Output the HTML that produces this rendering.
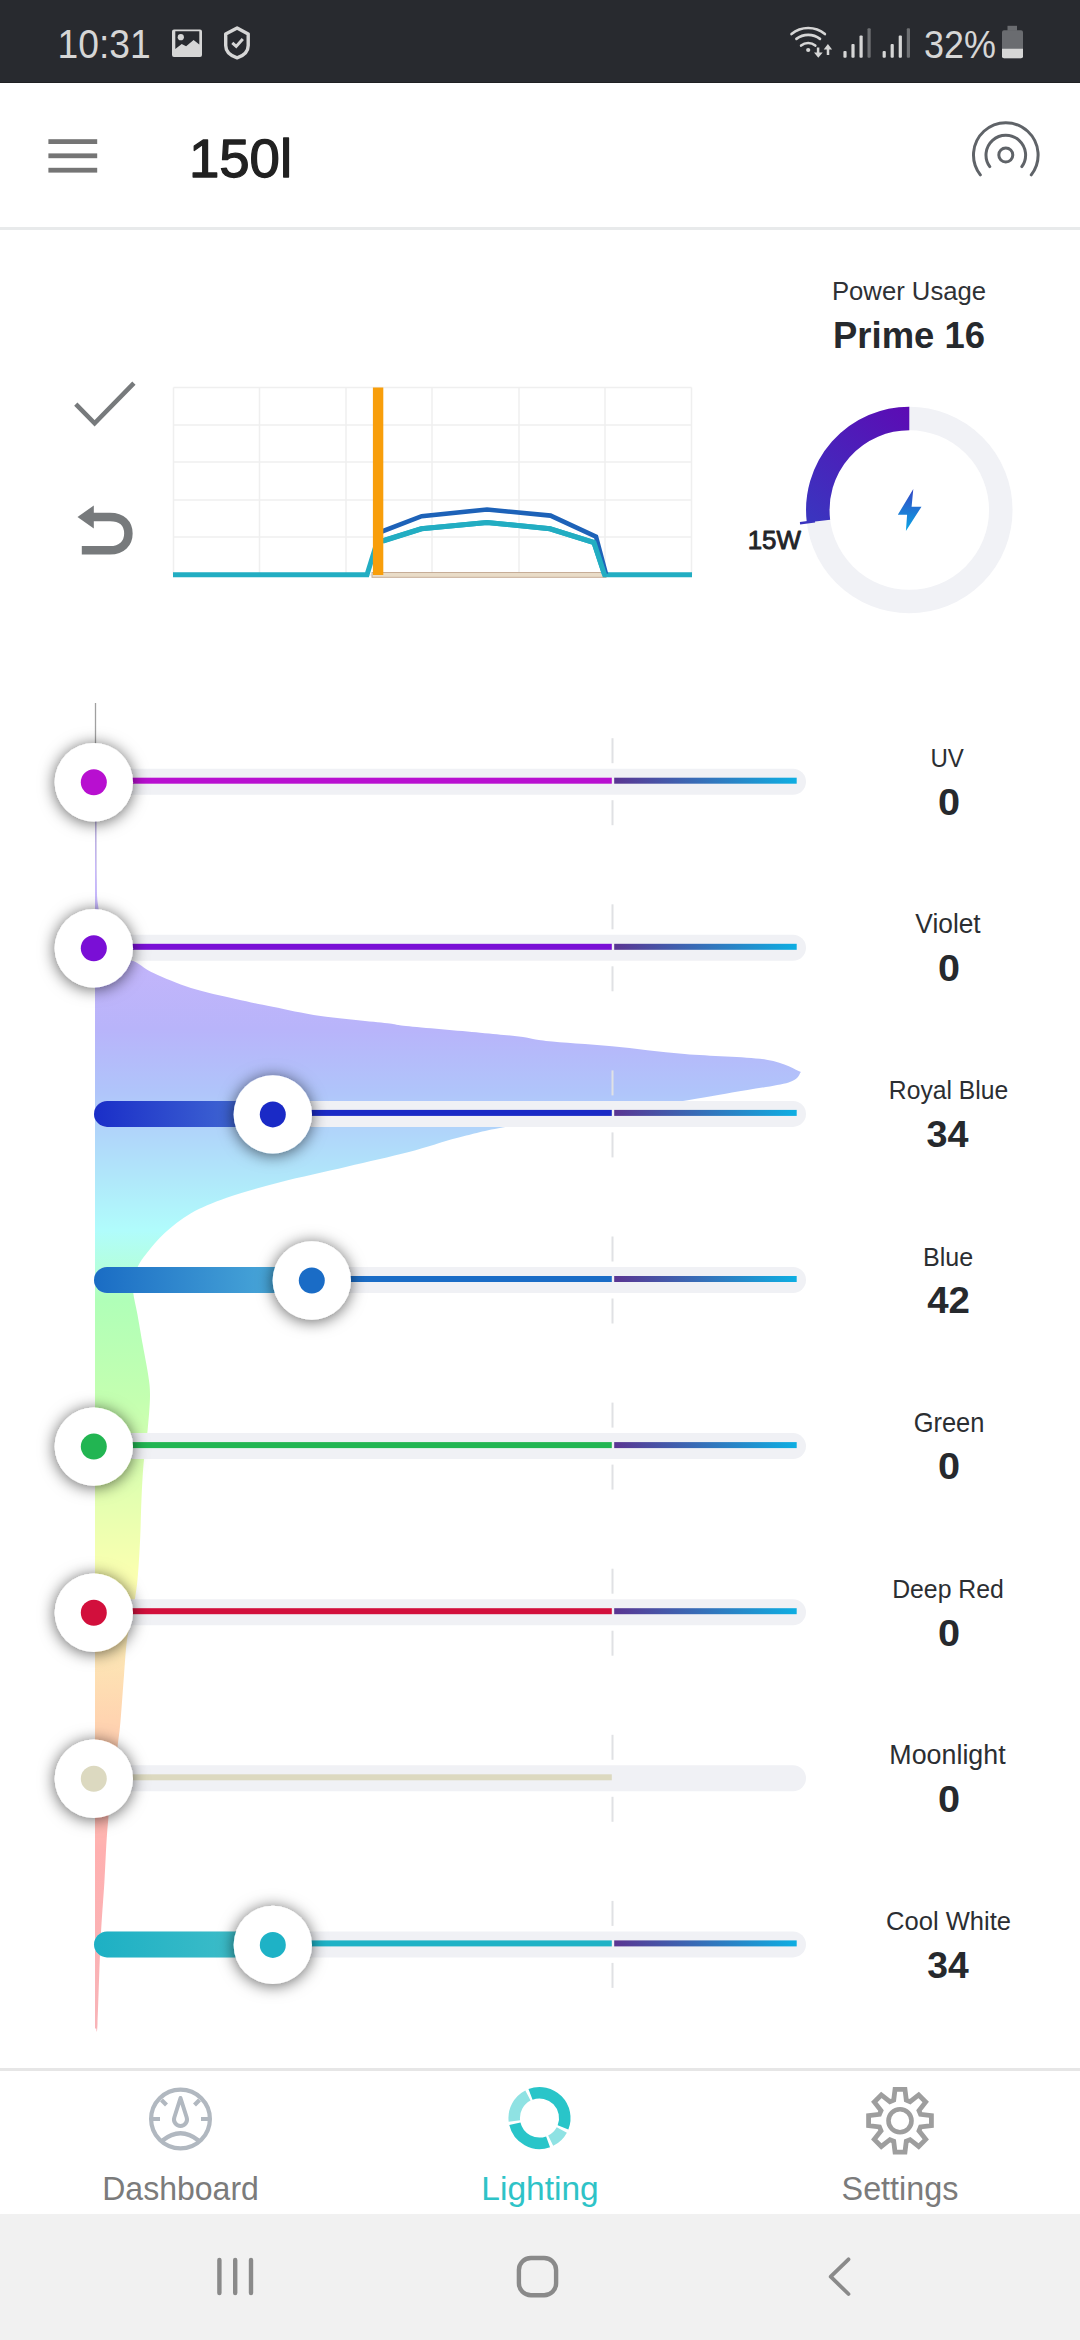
<!DOCTYPE html>
<html><head><meta charset="utf-8">
<style>html,body{margin:0;padding:0;}body{width:1080px;height:2340px;position:relative;overflow:hidden;background:#fff;}svg{position:absolute;left:0;top:0;}</style></head><body>
<svg width="1080" height="2340" viewBox="0 0 1080 2340" font-family='"Liberation Sans", sans-serif'>
<defs>
<linearGradient id="spec" gradientUnits="userSpaceOnUse" x1="0" y1="830" x2="0" y2="2028">
<stop offset="0.0000" stop-color="#c8b8fb"/>
<stop offset="0.1085" stop-color="#c3b5fb"/>
<stop offset="0.1669" stop-color="#b8b4fa"/>
<stop offset="0.2170" stop-color="#b0c4fa"/>
<stop offset="0.2504" stop-color="#b0d4fa"/>
<stop offset="0.2922" stop-color="#b0e8fa"/>
<stop offset="0.3339" stop-color="#b0fcfc"/>
<stop offset="0.3631" stop-color="#b4ffe0"/>
<stop offset="0.3923" stop-color="#b0ffb8"/>
<stop offset="0.4758" stop-color="#c4ffb0"/>
<stop offset="0.5593" stop-color="#e4ffb0"/>
<stop offset="0.6260" stop-color="#fcffb0"/>
<stop offset="0.6928" stop-color="#fde4b4"/>
<stop offset="0.7429" stop-color="#ffd4b0"/>
<stop offset="0.8514" stop-color="#ffb0b0"/>
<stop offset="1.0000" stop-color="#f8b4b8"/>
</linearGradient>
<filter id="ksh" x="-60%" y="-60%" width="220%" height="220%"><feDropShadow dx="0" dy="1.5" stdDeviation="8" flood-color="#000" flood-opacity="0.62"/></filter>
<linearGradient id="tail" x1="0" y1="0" x2="1" y2="0"><stop offset="0" stop-color="#5a3592"/><stop offset="1" stop-color="#0eaee2"/></linearGradient>
<linearGradient id="fill2" gradientUnits="userSpaceOnUse" x1="94" y1="0" x2="234.0" y2="0"><stop offset="0" stop-color="#1a2ec8"/><stop offset="1" stop-color="#3e64d2"/></linearGradient>
<linearGradient id="fill3" gradientUnits="userSpaceOnUse" x1="94" y1="0" x2="273.0" y2="0"><stop offset="0" stop-color="#1a6cc4"/><stop offset="1" stop-color="#48a6d8"/></linearGradient>
<linearGradient id="fill7" gradientUnits="userSpaceOnUse" x1="94" y1="0" x2="234.0" y2="0"><stop offset="0" stop-color="#1db0c4"/><stop offset="1" stop-color="#3cbcc8"/></linearGradient>
<linearGradient id="gaugeG" gradientUnits="userSpaceOnUse" x1="909" y1="407" x2="815" y2="520"><stop offset="0" stop-color="#5c0bb4"/><stop offset="1" stop-color="#3b34bf"/></linearGradient>
<linearGradient id="boltG" x1="0" y1="0" x2="0" y2="1"><stop offset="0" stop-color="#3446c4"/><stop offset="1" stop-color="#0aa6e4"/></linearGradient>
</defs>
<rect x="0" y="0" width="1080" height="83" fill="#282a2f"/><rect x="0" y="82" width="1080" height="1" fill="#1f2023"/>
<text transform="translate(104.05,57.80) scale(0.9306,1)" font-size="40.0" fill="#d6d6d6" text-anchor="middle">10:31</text>
<path d="M174,29.6 h26 a2,2 0 0 1 2,2 v23.5 a2,2 0 0 1 -2,2 h-26 a2,2 0 0 1 -2,-2 v-23.5 a2,2 0 0 1 2,-2z M175.3,31.3 v17.6 l6.4,-4.9 l4.4,2.3 l7.5,-6.2 l5.7,4.4 v-13.2z" fill="#d6d6d6" fill-rule="evenodd"/>
<circle cx="180.8" cy="37.2" r="3.1" fill="#d6d6d6"/>
<path d="M237.1,28 L248.2,34 V45.5 C248.2,51.5 243.5,55.8 237.1,57.8 C230.7,55.8 225.7,51.5 225.7,45.5 V34 Z" fill="none" stroke="#d6d6d6" stroke-width="3.4" stroke-linejoin="round"/>
<path d="M232.3,42.9 L236.2,46.4 L242.8,38.9" fill="none" stroke="#d6d6d6" stroke-width="3"/>
<g fill="none" stroke="#d6d6d6" stroke-width="2.6" stroke-linecap="round">
<path d="M791.5,34.1 A26.0,26.0 0 0 1 824.9,34.1"/>
<path d="M796.4,38.9 A19.2,19.2 0 0 1 820.0,38.9"/>
<path d="M801.1,45.6 A11.0,11.0 0 0 1 815.3,45.6"/>
</g>
<circle cx="808.2" cy="50" r="2.1" fill="#d6d6d6"/>
<path d="M818.1,47.5 V53 M828,55 V49" fill="none" stroke="#d6d6d6" stroke-width="2.5"/>
<path d="M814,52.6 H822.7 L818.3,57.8Z M823.7,49.5 H832.1 L827.9,43.9Z" fill="#d6d6d6"/>
<rect x="843.4" y="51.1" width="3.2" height="6.7" rx="1" fill="#d6d6d6"/>
<rect x="851.4" y="43.9" width="3.2" height="13.9" rx="1" fill="#d6d6d6"/>
<rect x="859.5" y="35.5" width="3.2" height="22.3" rx="1" fill="#d6d6d6"/>
<rect x="867.5" y="28.2" width="3.2" height="29.6" rx="1" fill="#6d6f72"/>
<rect x="882.6" y="51.1" width="3.2" height="6.7" rx="1" fill="#d6d6d6"/>
<rect x="890.6" y="43.9" width="3.2" height="13.9" rx="1" fill="#d6d6d6"/>
<rect x="898.7" y="35.5" width="3.2" height="22.3" rx="1" fill="#d6d6d6"/>
<rect x="906.8" y="28.2" width="3.2" height="29.6" rx="1" fill="#6d6f72"/>
<text transform="translate(960.00,57.80) scale(0.9124,1)" font-size="39.4" fill="#d6d6d6" text-anchor="middle">32%</text>
<rect x="1007.5" y="25.8" width="9.5" height="5" fill="#6a6c70"/>
<rect x="1002" y="30.3" width="21" height="28" rx="2" fill="#6a6c70"/>
<path d="M1002,48.7 h21 v7.6 a2,2 0 0 1 -2,2 h-17 a2,2 0 0 1 -2,-2z" fill="#d6d6d6"/>
<g fill="#757575"><rect x="48.4" y="139.2" width="48.8" height="4.8"/><rect x="48.4" y="153.4" width="48.8" height="4.8"/><rect x="48.4" y="167.8" width="48.8" height="4.8"/></g>
<text transform="translate(240.50,177.40) scale(1.0053,1)" font-size="54.3" stroke-width="1.30" stroke-linejoin="round" fill="#212121" stroke="#212121" text-anchor="middle">150l</text>
<g fill="none" stroke="#5f6368" stroke-width="3" stroke-linecap="round">
<circle cx="1005.8" cy="155" r="7"/>
<path d="M989.78,166.64 A19.8,19.8 0 1 1 1021.82,166.64"/>
<path d="M980.35,174.89 A32.3,32.3 0 1 1 1031.25,174.89"/>
</g>
<rect x="0" y="227" width="1080" height="3" fill="#e8eaeb"/>
<path d="M75.8,404.2 L94.6,423.3 L133.9,383.2" fill="none" stroke="#777a7c" stroke-width="4.6"/>
<path d="M93.8,505.5 L77.5,517 L93.8,528.5 Z" fill="#777a7c"/>
<path d="M92,517 H110 C122,517 128.4,524 128.4,533.5 C128.4,543 122,550.3 110,550.3 H81.8" fill="none" stroke="#777a7c" stroke-width="8.5"/>
<g stroke="#efefef" stroke-width="1.5">
<line x1="173.5" y1="387.5" x2="173.5" y2="575"/>
<line x1="259.5" y1="387.5" x2="259.5" y2="575"/>
<line x1="346.0" y1="387.5" x2="346.0" y2="575"/>
<line x1="432.0" y1="387.5" x2="432.0" y2="575"/>
<line x1="519.0" y1="387.5" x2="519.0" y2="575"/>
<line x1="605.0" y1="387.5" x2="605.0" y2="575"/>
<line x1="691.5" y1="387.5" x2="691.5" y2="575"/>
<line x1="173.5" y1="387.5" x2="691.5" y2="387.5"/>
<line x1="173.5" y1="425.0" x2="691.5" y2="425.0"/>
<line x1="173.5" y1="462.0" x2="691.5" y2="462.0"/>
<line x1="173.5" y1="500.0" x2="691.5" y2="500.0"/>
<line x1="173.5" y1="537.0" x2="691.5" y2="537.0"/>
<line x1="173.5" y1="575.0" x2="691.5" y2="575.0"/>
</g>
<rect x="372" y="572.5" width="234" height="4.8" fill="#e9dcc8" stroke="#c6ad98" stroke-width="1"/>
<polyline points="173,574.8 367,574.8 377,542.6 421,528.8 487,522.5 550,528.8 594,542.6 604.6,574.8 692,574.8" fill="none" stroke="#22adc2" stroke-width="5" stroke-linejoin="miter"/>
<polyline points="378,533 421.7,516.2 487,509.5 550.5,515.6 596,536.6 606,574" fill="none" stroke="#1d62b8" stroke-width="4.6"/>
<polyline points="383,541 421.7,528.8 487,522.5 550,528.8 594,542.6 604.6,574.8" fill="none" stroke="#22adc2" stroke-width="5"/>
<rect x="372.9" y="387.5" width="10.4" height="187.5" fill="#f89e0b"/>
<text transform="translate(909.01,300.00) scale(0.9699,1)" font-size="26.5" fill="#2e3135" text-anchor="middle">Power Usage</text>
<text transform="translate(909.00,347.70) scale(1.0068,1)" font-size="36.2" font-weight="bold" fill="#26292d" text-anchor="middle">Prime 16</text>
<circle cx="909.3" cy="510" r="91.5" fill="none" stroke="#f1f2f6" stroke-width="23.5"/>
<path d="M909.30,418.50 A91.5,91.5 0 0 0 818.48,521.15" fill="none" stroke="url(#gaugeG)" stroke-width="23.5"/>
<line x1="800" y1="523.2" x2="815" y2="521.3" stroke="#3b34bf" stroke-width="2.4"/>
<path d="M913.3,488.9 L897.8,514.8 H907.1 L905.9,531.1 L921.5,506.7 H911.6 Z" fill="url(#boltG)"/>
<text transform="translate(774.29,549.40) scale(0.9882,1)" font-size="26.2" stroke-width="0.90" stroke-linejoin="round" fill="#222428" stroke="#222428" text-anchor="middle">15W</text>
<line x1="95.5" y1="703" x2="95.5" y2="745" stroke="#a0a0a0" stroke-width="1.3"/>
<line x1="95.8" y1="820" x2="95.8" y2="900" stroke="#b0a4d8" stroke-width="1.4"/>
<path d="M95.0,830.0 C95.2,838.3 96.0,867.5 96.5,880.0 C97.0,892.5 96.8,896.7 98.0,905.0 C99.2,913.3 100.3,921.7 104.0,930.0 C107.7,938.3 114.7,949.7 120.0,955.0 C125.3,960.3 129.9,959.0 135.6,962.0 C141.3,965.0 144.8,969.0 154.0,973.3 C163.2,977.6 177.4,983.7 191.0,988.0 C204.6,992.3 222.0,995.9 235.6,999.0 C249.2,1002.1 258.4,1003.9 272.6,1006.7 C286.8,1009.5 301.6,1013.2 320.7,1016.0 C339.8,1018.8 373.2,1021.6 387.4,1023.3 C401.6,1025.0 390.6,1024.4 406.0,1026.0 C421.4,1027.6 460.8,1030.9 480.0,1032.7 C499.2,1034.5 510.0,1035.4 521.0,1036.8 C532.0,1038.2 530.8,1039.3 546.0,1040.9 C561.2,1042.5 588.9,1044.0 612.0,1046.2 C635.1,1048.4 659.0,1051.8 684.7,1054.0 C710.5,1056.2 747.1,1056.7 766.5,1059.7 C785.9,1062.7 795.2,1070.0 801.0,1072.0 C798.9,1073.7 800.1,1079.0 788.6,1082.4 C777.1,1085.8 749.9,1089.3 732.0,1092.5 C714.1,1095.7 703.5,1097.7 681.5,1101.3 C659.5,1104.9 629.1,1109.8 600.0,1114.0 C570.9,1118.2 530.4,1122.7 506.7,1126.7 C483.0,1130.7 474.1,1133.6 457.8,1137.8 C441.5,1142.0 427.4,1147.2 408.9,1152.0 C390.4,1156.8 368.2,1161.7 346.7,1166.7 C325.2,1171.7 300.0,1177.0 280.0,1182.2 C260.0,1187.4 241.5,1192.6 226.7,1197.8 C211.9,1203.0 201.4,1207.4 191.0,1213.3 C180.6,1219.2 171.8,1226.6 164.4,1233.3 C157.0,1240.0 151.1,1247.7 146.7,1253.3 C142.3,1258.9 139.9,1262.2 137.8,1266.7 C135.7,1271.2 134.8,1275.6 134.0,1280.0 C133.2,1284.4 132.7,1287.3 133.3,1293.0 C133.9,1298.7 135.8,1305.4 137.4,1314.2 C139.0,1323.0 141.1,1335.3 142.9,1345.6 C144.7,1355.8 147.1,1367.3 148.3,1375.7 C149.5,1384.1 150.1,1387.1 150.0,1396.2 C149.9,1405.3 148.7,1418.9 147.6,1430.3 C146.5,1441.7 144.5,1453.1 143.5,1464.5 C142.5,1475.9 142.1,1486.2 141.5,1498.7 C140.9,1511.2 140.8,1526.0 140.1,1539.7 C139.4,1553.4 138.6,1569.0 137.4,1580.7 C136.2,1592.4 134.7,1600.1 133.0,1610.0 C131.3,1619.9 128.5,1629.1 127.0,1640.0 C125.5,1650.9 125.1,1661.5 124.0,1675.2 C122.9,1688.9 121.5,1710.3 120.4,1722.2 C119.3,1734.1 119.6,1730.4 117.6,1746.7 C115.6,1763.0 110.4,1797.5 108.2,1820.0 C106.0,1842.5 105.7,1862.2 104.4,1882.0 C103.2,1901.8 101.9,1914.8 100.7,1938.5 C99.5,1962.2 98.2,2009.0 97.5,2024.0 C96.8,2039.0 96.4,2027.8 96.2,2028.5 C96.0,2028.5 95.2,2028.5 95.0,2028.5 Z" fill="url(#spec)"/>
<rect x="94" y="768.7" width="712" height="26" rx="13" fill="#f0f1f5"/>
<rect x="611.5" y="738.2" width="2" height="25" fill="#e0e1e4"/>
<rect x="611.5" y="800.2" width="2" height="25" fill="#e0e1e4"/>
<rect x="94.0" y="777.7" width="517.8" height="6" fill="#b80fd0"/>
<rect x="614.2" y="777.7" width="182.5" height="6" fill="url(#tail)"/>
<circle cx="93.8" cy="782.2" r="39.2" fill="#fff" filter="url(#ksh)"/>
<circle cx="93.8" cy="782.2" r="13" fill="#b80fd0"/>
<text transform="translate(947.11,767.20) scale(0.9009,1)" font-size="26.7" fill="#2b2e32" text-anchor="middle">UV</text>
<text transform="translate(949.00,815.00) scale(1.0585,1)" font-size="37.5" font-weight="bold" fill="#26292d" text-anchor="middle">0</text>
<rect x="94" y="934.8" width="712" height="26" rx="13" fill="#f0f1f5"/>
<rect x="611.5" y="904.3" width="2" height="25" fill="#e0e1e4"/>
<rect x="611.5" y="966.3" width="2" height="25" fill="#e0e1e4"/>
<rect x="94.0" y="943.8" width="517.8" height="6" fill="#7a0fd6"/>
<rect x="614.2" y="943.8" width="182.5" height="6" fill="url(#tail)"/>
<circle cx="93.8" cy="948.3" r="39.2" fill="#fff" filter="url(#ksh)"/>
<circle cx="93.8" cy="948.3" r="13" fill="#7a0fd6"/>
<text transform="translate(948.00,933.30) scale(0.9851,1)" font-size="26.7" fill="#2b2e32" text-anchor="middle">Violet</text>
<text transform="translate(948.97,981.10) scale(1.0542,1)" font-size="37.5" font-weight="bold" fill="#26292d" text-anchor="middle">0</text>
<rect x="94" y="1100.9" width="712" height="26" rx="13" fill="#f0f1f5"/>
<rect x="611.5" y="1070.4" width="2" height="25" fill="#e0e1e4"/>
<rect x="611.5" y="1132.4" width="2" height="25" fill="#e0e1e4"/>
<rect x="273.0" y="1109.9" width="338.8" height="6" fill="#1a2ac6"/>
<rect x="614.2" y="1109.9" width="182.5" height="6" fill="url(#tail)"/>
<rect x="94" y="1100.9" width="189.0" height="26" rx="13" fill="url(#fill2)"/>
<circle cx="272.8" cy="1114.4" r="39.2" fill="#fff" filter="url(#ksh)"/>
<circle cx="272.8" cy="1114.4" r="13" fill="#1a2ac6"/>
<text transform="translate(948.51,1099.40) scale(0.9247,1)" font-size="26.7" fill="#2b2e32" text-anchor="middle">Royal Blue</text>
<text transform="translate(947.49,1147.20) scale(1.0060,1)" font-size="37.5" font-weight="bold" fill="#26292d" text-anchor="middle">34</text>
<rect x="94" y="1267.0" width="712" height="26" rx="13" fill="#f0f1f5"/>
<rect x="611.5" y="1236.5" width="2" height="25" fill="#e0e1e4"/>
<rect x="611.5" y="1298.5" width="2" height="25" fill="#e0e1e4"/>
<rect x="312.0" y="1276.0" width="299.8" height="6" fill="#1a6cc6"/>
<rect x="614.2" y="1276.0" width="182.5" height="6" fill="url(#tail)"/>
<rect x="94" y="1267.0" width="228.0" height="26" rx="13" fill="url(#fill3)"/>
<circle cx="311.8" cy="1280.5" r="39.2" fill="#fff" filter="url(#ksh)"/>
<circle cx="311.8" cy="1280.5" r="13" fill="#1a6cc6"/>
<text transform="translate(948.05,1265.50) scale(0.9400,1)" font-size="26.7" fill="#2b2e32" text-anchor="middle">Blue</text>
<text transform="translate(948.51,1313.30) scale(1.0256,1)" font-size="37.5" font-weight="bold" fill="#26292d" text-anchor="middle">42</text>
<rect x="94" y="1433.1" width="712" height="26" rx="13" fill="#f0f1f5"/>
<rect x="611.5" y="1402.6" width="2" height="25" fill="#e0e1e4"/>
<rect x="611.5" y="1464.6" width="2" height="25" fill="#e0e1e4"/>
<rect x="94.0" y="1442.1" width="517.8" height="6" fill="#22b552"/>
<rect x="614.2" y="1442.1" width="182.5" height="6" fill="url(#tail)"/>
<circle cx="93.8" cy="1446.6" r="39.2" fill="#fff" filter="url(#ksh)"/>
<circle cx="93.8" cy="1446.6" r="13" fill="#22b552"/>
<text transform="translate(949.00,1431.60) scale(0.9523,1)" font-size="26.7" fill="#2b2e32" text-anchor="middle">Green</text>
<text transform="translate(949.00,1479.40) scale(1.0585,1)" font-size="37.5" font-weight="bold" fill="#26292d" text-anchor="middle">0</text>
<rect x="94" y="1599.2" width="712" height="26" rx="13" fill="#f0f1f5"/>
<rect x="611.5" y="1568.7" width="2" height="25" fill="#e0e1e4"/>
<rect x="611.5" y="1630.7" width="2" height="25" fill="#e0e1e4"/>
<rect x="94.0" y="1608.2" width="517.8" height="6" fill="#d20f3c"/>
<rect x="614.2" y="1608.2" width="182.5" height="6" fill="url(#tail)"/>
<circle cx="93.8" cy="1612.7" r="39.2" fill="#fff" filter="url(#ksh)"/>
<circle cx="93.8" cy="1612.7" r="13" fill="#d20f3c"/>
<text transform="translate(948.01,1597.70) scale(0.9292,1)" font-size="26.7" fill="#2b2e32" text-anchor="middle">Deep Red</text>
<text transform="translate(949.00,1645.50) scale(1.0585,1)" font-size="37.5" font-weight="bold" fill="#26292d" text-anchor="middle">0</text>
<rect x="94" y="1765.3" width="712" height="26" rx="13" fill="#f0f1f5"/>
<rect x="611.5" y="1734.8" width="2" height="25" fill="#e0e1e4"/>
<rect x="611.5" y="1796.8" width="2" height="25" fill="#e0e1e4"/>
<rect x="94.0" y="1774.3" width="517.8" height="6" fill="#dcd9c0"/>
<circle cx="93.8" cy="1778.8" r="39.2" fill="#fff" filter="url(#ksh)"/>
<circle cx="93.8" cy="1778.8" r="13" fill="#dcd9c0"/>
<text transform="translate(947.49,1763.80) scale(1.0045,1)" font-size="26.7" fill="#2b2e32" text-anchor="middle">Moonlight</text>
<text transform="translate(949.00,1811.60) scale(1.0585,1)" font-size="37.5" font-weight="bold" fill="#26292d" text-anchor="middle">0</text>
<rect x="94" y="1931.4" width="712" height="26" rx="13" fill="#f0f1f5"/>
<rect x="611.5" y="1900.9" width="2" height="25" fill="#e0e1e4"/>
<rect x="611.5" y="1962.9" width="2" height="25" fill="#e0e1e4"/>
<rect x="273.0" y="1940.4" width="338.8" height="6" fill="#1eb2c6"/>
<rect x="614.2" y="1940.4" width="182.5" height="6" fill="url(#tail)"/>
<rect x="94" y="1931.4" width="189.0" height="26" rx="13" fill="url(#fill7)"/>
<circle cx="272.8" cy="1944.9" r="39.2" fill="#fff" filter="url(#ksh)"/>
<circle cx="272.8" cy="1944.9" r="13" fill="#1eb2c6"/>
<text transform="translate(948.51,1929.90) scale(0.9571,1)" font-size="26.7" fill="#2b2e32" text-anchor="middle">Cool White</text>
<text transform="translate(948.01,1977.70) scale(0.9932,1)" font-size="37.5" font-weight="bold" fill="#26292d" text-anchor="middle">34</text>
<rect x="0" y="2068" width="1080" height="3" fill="#e6e6e6"/>
<g fill="none" stroke="#b1b8c0" stroke-width="4.2">
<circle cx="180.5" cy="2119" r="29.4"/>
<path d="M153,2119 H160 M201,2119 H208"/>
<path d="M161.5,2100 L166.5,2105 M199.5,2100 L194.5,2105"/>
<path d="M162.5,2140.5 Q180.5,2126 198.5,2140.5"/>
<path d="M180.5,2098 L186.7,2117.5 A6.5,6.5 0 1 1 174.3,2117.5 Z" stroke-width="4" stroke-linejoin="round"/>
</g>
<text transform="translate(180.53,2200.00) scale(0.9567,1)" font-size="33.5" fill="#7b7b7b" text-anchor="middle">Dashboard</text>
<path d="M530.52,2094.35 A25.3,25.3 0 0 1 562.99,2127.40" fill="none" stroke="#29c5c9" stroke-width="11.5"/>
<path d="M561.80,2129.96 A25.3,25.3 0 0 1 550.67,2140.70" fill="none" stroke="#8fe2e3" stroke-width="11.5"/>
<path d="M548.07,2141.80 A25.3,25.3 0 0 1 514.87,2123.78" fill="none" stroke="#29c5c9" stroke-width="11.5"/>
<path d="M514.38,2121.00 A25.3,25.3 0 0 1 527.94,2095.50" fill="none" stroke="#8fe2e3" stroke-width="11.5"/>
<text transform="translate(540.00,2200.00) scale(1.0010,1)" font-size="33.5" fill="#2ec3c7" text-anchor="middle">Lighting</text>
<path d="M893.71,2100.14 L895.03,2089.29 L904.97,2089.29 L906.29,2100.14 L910.09,2101.72 L918.69,2094.97 L925.73,2102.01 L918.98,2110.61 L920.56,2114.41 L931.41,2115.73 L931.41,2125.67 L920.56,2126.99 L918.98,2130.79 L925.73,2139.39 L918.69,2146.43 L910.09,2139.68 L906.29,2141.26 L904.97,2152.11 L895.03,2152.11 L893.71,2141.26 L889.91,2139.68 L881.31,2146.43 L874.27,2139.39 L881.02,2130.79 L879.44,2126.99 L868.59,2125.67 L868.59,2115.73 L879.44,2114.41 L881.02,2110.61 L874.27,2102.01 L881.31,2094.97 L889.91,2101.72 Z" fill="none" stroke="#9e9e9e" stroke-width="4.8" stroke-linejoin="miter"/>
<circle cx="900" cy="2120.7" r="11.5" fill="none" stroke="#9e9e9e" stroke-width="4.6"/>
<text transform="translate(900.00,2200.00) scale(0.9661,1)" font-size="33.5" fill="#7b7b7b" text-anchor="middle">Settings</text>
<rect x="0" y="2214" width="1080" height="126" fill="#f1f1f1"/>
<g stroke="#8a8a8a" stroke-width="4.4" stroke-linecap="round" fill="none">
<line x1="219.4" y1="2260" x2="219.4" y2="2293"/>
<line x1="235.2" y1="2260" x2="235.2" y2="2293"/>
<line x1="251.0" y1="2260" x2="251.0" y2="2293"/>
<rect x="518.9" y="2258" width="37.2" height="37.2" rx="12"/>
<path d="M848.5,2259.3 L830.7,2276.7 L848.5,2294" stroke-width="3.8" stroke-linejoin="round"/>
</g>
</svg></body></html>
